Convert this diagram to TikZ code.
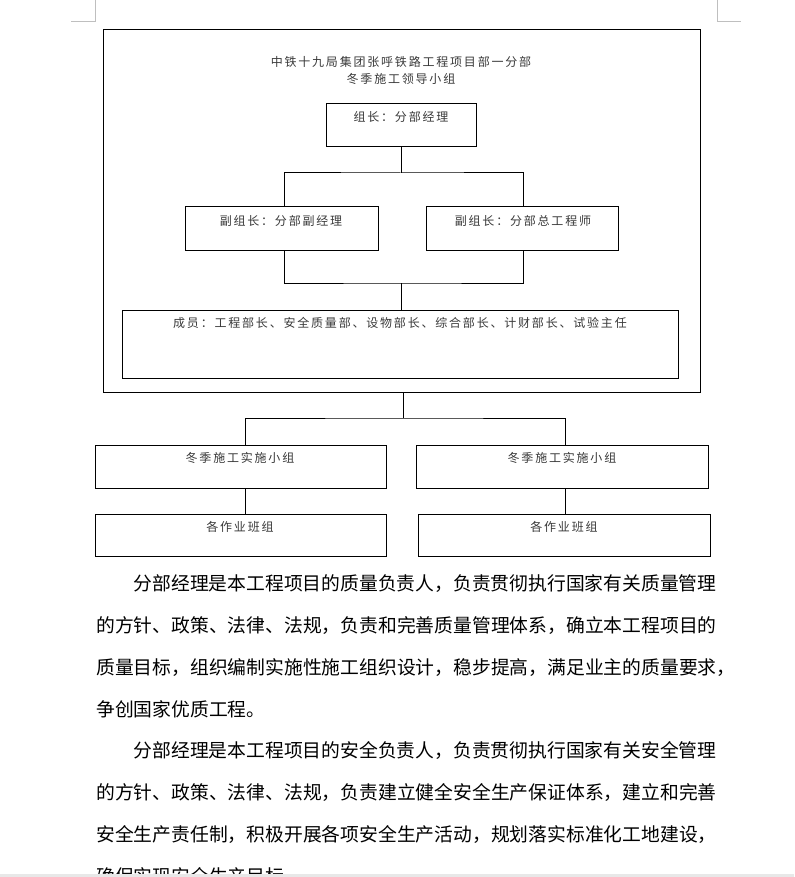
\documentclass[tikz,border=0pt]{standalone}
\usepackage{fontspec}
\newfontfamily\cjk{Noto Sans CJK SC}
\usetikzlibrary{fit}
\begin{document}
\begin{tikzpicture}[x=0.75pt,y=-0.75pt,
  box/.style={draw, line width=0.75pt, inner sep=0pt},
  conn/.style={draw, line width=0.75pt},
  cropmark/.style={draw=black!25, line width=0.75pt},
  lbl/.style={font=\cjk\fontsize{9pt}{11pt}\selectfont\addfontfeature{LetterSpace=15}, text=black!78, inner sep=0pt},
  para/.style={font=\cjk\fontsize{14.1pt}{17pt}\selectfont, anchor=west, inner sep=0pt}]
\useasboundingbox (0,0) rectangle (794,877);
\clip (0,0) rectangle (794,877);
% crop marks
\coordinate (cm1) at (95,0); \coordinate (cm2) at (95,22); \coordinate (cm3) at (71,22);
\coordinate (cm4) at (717,0); \coordinate (cm5) at (717,22); \coordinate (cm6) at (741,22);
\draw[cropmark] (cm1) -- (cm2) -- (cm3);
\draw[cropmark] (cm4) -- (cm5) -- (cm6);
% boxes
\node[box, fit={(103,30)(700,392)}] (outer) {};
\node[box, fit={(326,104)(476,147)}] (lead) {};
\node[box, fit={(185,207)(378,250)}] (dep1) {};
\node[box, fit={(426,207)(618,250)}] (dep2) {};
\node[box, fit={(122,310)(678,378)}] (mem) {};
\node[box, fit={(95,445)(386,488)}] (g1) {};
\node[box, fit={(416,445)(708,488)}] (g2) {};
\node[box, fit={(95,514)(386,556)}] (w1) {};
\node[box, fit={(418,514)(710,556)}] (w2) {};
% texts
\node[lbl] (title1) at (401,62) {中铁十九局集团张呼铁路工程项目部一分部};
\node[lbl] (title2) at (401,79) {冬季施工领导小组};
\node[lbl] (tlead) at (401,117) {组长：分部经理};
\node[lbl] (tdep1) at (281,221) {副组长：分部副经理};
\node[lbl] (tdep2) at (523,221) {副组长：分部总工程师};
\node[lbl] (tmem) at (400,323) {成员：工程部长、安全质量部、设物部长、综合部长、计财部长、试验主任};
\node[lbl] (tg1) at (240,458) {冬季施工实施小组};
\node[lbl] (tg2) at (562,458) {冬季施工实施小组};
\node[lbl] (tw1) at (240,527) {各作业班组};
\node[lbl] (tw2) at (564,527) {各作业班组};
% connectors
\coordinate (va) at (284,0); \coordinate (vb) at (523.5,0);
\coordinate (ja) at (401,173); \coordinate (jb) at (401,283);
\draw[conn] (lead.south) -- (ja);
\draw[conn] (va |- dep1.north) |- (ja) -| (vb |- dep2.north);
\draw[conn] (va |- dep1.south) |- (jb) -| (vb |- dep2.south);
\draw[conn] (jb) -- (jb |- mem.north);
\coordinate (vc) at (403,0); \coordinate (jc) at (403,418);
\coordinate (vl) at (245,0); \coordinate (vr) at (565,0);
\draw[conn] (vc |- outer.south) -- (jc);
\draw[conn] (vl |- g1.north) |- (jc) -| (vr |- g2.north);
\draw[conn] (vl |- g1.south) -- (vl |- w1.north);
\draw[conn] (vr |- g2.south) -- (vr |- w2.north);
% paragraphs
\node[para] (p1) at (133.5,584) {分部经理是本工程项目的质量负责人，负责贯彻执行国家有关质量管理};
\node[para] (p2) at (96,625.7) {的方针、政策、法律、法规，负责和完善质量管理体系，确立本工程项目的};
\node[para] (p3) at (96,667.4) {质量目标，组织编制实施性施工组织设计，稳步提高，满足业主的质量要求，};
\node[para] (p4) at (96,709) {争创国家优质工程。};
\node[para] (q1) at (133.5,750.8) {分部经理是本工程项目的安全负责人，负责贯彻执行国家有关安全管理};
\node[para] (q2) at (96,792.5) {的方针、政策、法律、法规，负责建立健全安全生产保证体系，建立和完善};
\node[para] (q3) at (96,834.2) {安全生产责任制，积极开展各项安全生产活动，规划落实标准化工地建设，};
\node[para] (q4) at (96,876) {确保实现安全生产目标。};
\fill[black!9] (0,874) rectangle (794,877);
\end{tikzpicture}
\end{document}
